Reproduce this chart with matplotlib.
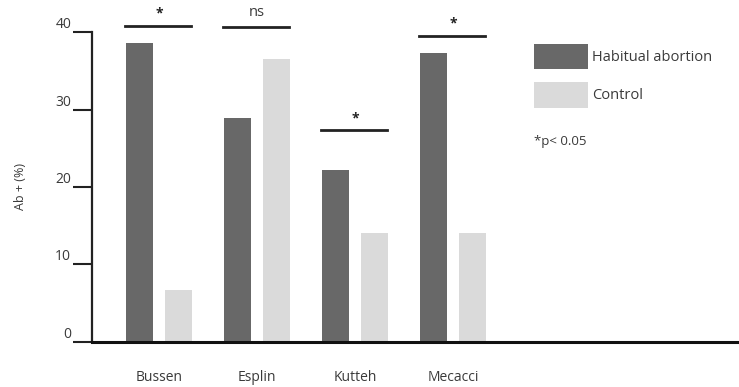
import matplotlib
matplotlib.use("Agg")
import matplotlib.pyplot as plt
import numpy as np

studies = ["Bussen", "Esplin", "Kutteh", "Mecacci"]
habitual = [38.6, 28.9, 22.2, 37.3]
control = [6.7, 36.5, 14.1, 14.1]
sig_labels = ["*", "ns", "*", "*"]
sig_heights = [40.8, 40.7, 27.3, 39.5]
yticks = [0, 10, 20, 30, 40]

dark = "#686868"
light = "#dadada"
txt = "#3a3a3a"

plt.rcParams["font.family"] = ["Open Sans", "DejaVu Sans"]

fig = plt.figure(figsize=(7.39, 3.87), dpi=100)
ax = fig.add_axes([0.1245, 0.1163, 0.8755, 0.801])

x = np.arange(len(studies))
w = 0.27
ax.bar(x - 0.2, habitual, w, color=dark, label="Habitual abortion")
ax.bar(x + 0.2, control, w, color=light, label="Control")

# significance bars
for i, (s, h) in enumerate(zip(sig_labels, sig_heights)):
    ax.plot([i - 0.35, i + 0.33], [h, h], color="#222222", lw=2, clip_on=False)
    if s == "*":
        ax.text(i, h + 0.7, s, ha="center", va="bottom", fontsize=10,
                color="#222222", fontweight="bold")
    else:
        ax.text(i, h + 0.8, s, ha="center", va="bottom", fontsize=10.5, color=txt)

ax.set_xlim(-0.684, 5.92)
ax.set_ylim(0, 40)
ax.set_xticks(x)
ax.set_xticklabels(studies, fontsize=10, color=txt)
ax.set_yticks(yticks)
ax.set_yticklabels([str(t) for t in yticks], fontsize=10, color=txt)
ax.tick_params(axis="x", length=0, pad=20)
ax.tick_params(axis="y", length=14, width=1.5, color="#222222", pad=1)
for lab in ax.get_yticklabels():
    lab.set_verticalalignment("bottom")

for s in ["top", "right"]:
    ax.spines[s].set_visible(False)
ax.spines["left"].set_linewidth(1.6)
ax.spines["left"].set_color("#222222")
ax.spines["bottom"].set_linewidth(2.2)
ax.spines["bottom"].set_color("#111111")

ax.set_ylabel("Ab + (%)", fontsize=9, color=txt, labelpad=20)

leg = ax.legend(loc="upper left", bbox_to_anchor=(0.683, 0.962), frameon=False,
                fontsize=10.5, handlelength=3.7, handleheight=2.3, labelspacing=0.9,
                handletextpad=0.3, borderpad=0, borderaxespad=0, labelcolor=txt)
fig.text(0.722, 0.625, "*p< 0.05", fontsize=9.5, color=txt)

fig.savefig("out.png", dpi=100)
